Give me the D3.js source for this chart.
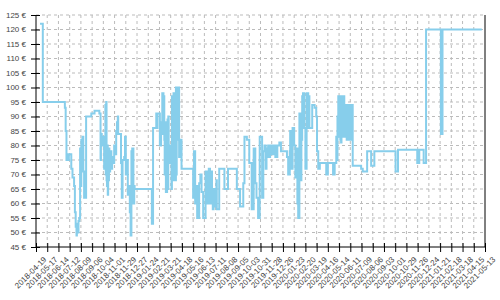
<!DOCTYPE html>
<html>
<head>
<meta charset="utf-8">
<script src="https://cdn.jsdelivr.net/npm/d3@7"></script>
<style>
  body { margin: 0; background: #fff; }
  .grid line { stroke: #bbb; stroke-dasharray: 3,3; }
  .lbl { font-family: "Liberation Sans", Arial, sans-serif; font-size: 8px; fill: #444; }
</style>
</head>
<body>
<div id="chart"></div>
<script>
var svgWidth = 500;
var svgHeight = 300;

var margin = { top: 15, right: 15, bottom: 53, left: 36 };
var width = svgWidth - margin.left - margin.right;
var height = svgHeight - margin.top - margin.bottom;

// price history, one price per date (step after each date)
var dates = [
  "2018-04-29","2018-05-06","2018-06-30","2018-07-02","2018-07-04","2018-07-05","2018-07-09","2018-07-10",
  "2018-07-16","2018-07-19","2018-07-23","2018-07-25","2018-07-27","2018-07-29","2018-07-30","2018-08-01",
  "2018-08-03","2018-08-05","2018-08-07","2018-08-08","2018-08-10","2018-08-12","2018-08-13","2018-08-15",
  "2018-08-17","2018-08-22","2018-09-04","2018-09-12","2018-09-24","2018-09-27","2018-09-28","2018-09-30",
  "2018-10-01","2018-10-04","2018-10-06","2018-10-09","2018-10-10","2018-10-11","2018-10-12","2018-10-13",
  "2018-10-14","2018-10-15","2018-10-16","2018-10-17","2018-10-18","2018-10-19","2018-10-21","2018-10-24",
  "2018-10-26","2018-10-29","2018-10-31","2018-11-03","2018-11-05","2018-11-07","2018-11-09","2018-11-10",
  "2018-11-17","2018-11-19","2018-11-21","2018-11-25","2018-11-27","2018-11-29","2018-12-01","2018-12-04",
  "2018-12-06","2018-12-09","2018-12-11","2018-12-13","2018-12-15","2018-12-18","2018-12-20","2018-12-21",
  "2019-02-02","2019-02-05","2019-02-13","2019-02-15","2019-02-16","2019-02-22","2019-02-25","2019-02-28",
  "2019-03-01","2019-03-02","2019-03-03","2019-03-04","2019-03-05","2019-03-06","2019-03-09","2019-03-10",
  "2019-03-11","2019-03-12","2019-03-13","2019-03-14","2019-03-15","2019-03-16","2019-03-18","2019-03-19",
  "2019-03-21","2019-03-23","2019-03-24","2019-03-25","2019-03-26","2019-03-27","2019-03-28","2019-03-29",
  "2019-03-30","2019-03-31","2019-04-01","2019-04-02","2019-04-03","2019-04-04","2019-04-05","2019-04-06",
  "2019-04-07","2019-04-08","2019-04-09","2019-04-11","2019-04-13","2019-04-17","2019-05-16","2019-05-18",
  "2019-05-21","2019-05-23","2019-05-26","2019-05-31","2019-06-03","2019-06-06","2019-06-10","2019-06-16",
  "2019-06-17","2019-06-18","2019-06-19","2019-06-20","2019-06-21","2019-06-22","2019-06-23","2019-06-24",
  "2019-06-25","2019-06-26","2019-06-27","2019-06-28","2019-06-30","2019-07-02","2019-07-04","2019-07-06",
  "2019-07-08","2019-07-10","2019-07-12","2019-07-13","2019-07-14","2019-07-20","2019-08-02","2019-08-11",
  "2019-09-02","2019-09-10","2019-09-18","2019-09-21","2019-09-27","2019-10-03","2019-10-09","2019-10-14",
  "2019-10-18","2019-10-21","2019-10-25","2019-10-29","2019-11-04","2019-11-07","2019-11-10","2019-11-13",
  "2019-11-15","2019-11-17","2019-11-19","2019-11-21","2019-11-22","2019-11-24","2019-11-26","2019-11-28",
  "2019-11-30","2019-12-02","2019-12-05","2019-12-07","2019-12-10","2019-12-12","2019-12-17","2019-12-21",
  "2020-01-05","2020-01-08","2020-01-12","2020-01-13","2020-01-16","2020-01-19","2020-01-23","2020-01-26",
  "2020-01-29","2020-01-31","2020-02-02","2020-02-05","2020-02-07","2020-02-10","2020-02-12","2020-02-13",
  "2020-02-14","2020-02-15","2020-02-16","2020-02-17","2020-02-18","2020-02-20","2020-02-23","2020-02-24",
  "2020-02-25","2020-02-26","2020-02-27","2020-02-28","2020-03-01","2020-03-02","2020-03-08","2020-03-14",
  "2020-03-18","2020-03-20","2020-03-23","2020-03-27","2020-04-12","2020-04-16","2020-04-29","2020-05-03",
  "2020-05-07","2020-05-08","2020-05-10","2020-05-11","2020-05-12","2020-05-13","2020-05-14","2020-05-15",
  "2020-05-16","2020-05-17","2020-05-18","2020-05-19","2020-05-20","2020-05-21","2020-05-22","2020-05-23",
  "2020-05-24","2020-05-25","2020-05-26","2020-05-27","2020-05-28","2020-05-29","2020-05-30","2020-05-31",
  "2020-06-01","2020-06-02","2020-06-03","2020-06-04","2020-06-05","2020-06-06","2020-06-07","2020-06-08",
  "2020-06-09","2020-06-10","2020-06-11","2020-06-12","2020-06-13","2020-06-14","2020-06-15","2020-06-17",
  "2020-07-08","2020-07-12","2020-07-23","2020-08-02","2020-08-10","2020-10-02","2020-10-08","2020-11-25",
  "2020-11-30","2020-12-11","2020-12-17","2021-01-23","2021-01-27","2021-05-05"
];
var prices = [
  122, 95, 93, 85, 75, 77, 75, 77,
  72, 69, 66, 57, 52, 49, 53, 50,
  54, 55, 79, 66, 82, 72, 83, 71,
  62, 90, 91, 92, 91, 75, 84, 80,
  83, 80, 72, 94, 70, 95, 68, 66,
  80, 63, 78, 68, 79, 71, 78, 72,
  76, 74, 80, 77, 85, 88, 90, 84,
  74, 62, 75, 76, 83, 70, 75, 63,
  66, 57, 49, 78, 79, 60, 66, 65,
  53, 86, 91, 86, 91, 80, 88, 98,
  84, 98, 84, 97, 82, 70, 64, 88,
  64, 82, 89, 65, 90, 76, 80, 74,
  80, 65, 97, 70, 97, 68, 98, 70,
  98, 68, 98, 68, 100, 70, 100, 82,
  100, 82, 100, 76, 82, 72, 62, 78,
  60, 66, 55, 67, 70, 64, 55, 71,
  62, 71, 63, 70, 60, 68, 60, 72,
  60, 72, 61, 60, 71, 60, 58, 65,
  59, 65, 59, 68, 58, 72, 65, 72,
  65, 59, 67, 83, 82, 74, 58, 79,
  67, 62, 55, 83, 62, 78, 80, 72,
  79, 76, 80, 77, 76, 80, 80, 77,
  77, 80, 80, 76, 76, 80, 81, 78,
  76, 70, 78, 85, 72, 86, 80, 69,
  79, 60, 55, 91, 68, 82, 97, 86,
  98, 86, 98, 98, 86, 72, 86, 98,
  86, 98, 86, 97, 86, 86, 94, 93,
  90, 78, 72, 74, 70, 74, 70, 74,
  83, 75, 90, 83, 97, 83, 97, 83,
  97, 82, 97, 81, 97, 83, 97, 83,
  97, 83, 97, 83, 94, 83, 94, 83,
  94, 82, 94, 82, 94, 82, 94, 82,
  94, 82, 94, 82, 94, 82, 94, 73,
  72, 71, 78, 73, 78, 71, 78.5, 74,
  78.5, 74, 120, 84, 120, 120
];

var yTicks = [45, 50, 55, 60, 65, 70, 75, 80, 85, 90, 95, 100, 105, 110, 115, 120, 125];
var xTickLabels = [
  "2018-04-19","2018-05-17","2018-06-14","2018-07-12","2018-08-09","2018-09-06","2018-10-04","2018-11-01",
  "2018-11-29","2018-12-27","2019-01-24","2019-02-21","2019-03-21","2019-04-18","2019-05-16","2019-06-13",
  "2019-07-11","2019-08-08","2019-09-05","2019-10-03","2019-10-31","2019-11-28","2019-12-26","2020-01-23",
  "2020-02-20","2020-03-19","2020-04-16","2020-05-14","2020-06-11","2020-07-09","2020-08-06","2020-09-03",
  "2020-10-01","2020-10-29","2020-11-26","2020-12-24","2021-01-21","2021-02-18","2021-03-18","2021-04-15",
  "2021-05-13"
];

var parseDate = d3.timeParse("%Y-%m-%d");
var data = dates.map(function(d, i) { return { date: parseDate(d), price: prices[i] }; });
var xTicks = xTickLabels.map(parseDate);

var svg = d3.select("#chart")
  .append("svg")
  .attr("width", svgWidth)
  .attr("height", svgHeight);

var chartGroup = svg.append("g")
  .attr("transform", `translate(${margin.left}, ${margin.top})`);

var xScale = d3.scaleTime()
  .domain([xTicks[0], xTicks[xTicks.length - 1]])
  .range([0, width]);
var yScale = d3.scaleLinear().domain([45, 125]).range([height, 0]);

// grid
chartGroup.append("g").attr("class", "grid")
  .selectAll("line").data(yTicks.slice(1)).enter().append("line")
  .attr("x1", 0).attr("x2", width)
  .attr("y1", d => yScale(d)).attr("y2", d => yScale(d));
chartGroup.append("g").attr("class", "grid")
  .selectAll("line").data(xTicks.slice(1, -1)).enter().append("line")
  .attr("y1", 0).attr("y2", height)
  .attr("x1", d => xScale(d)).attr("x2", d => xScale(d));

// price line
var line = d3.line()
  .curve(d3.curveStepAfter)
  .x(d => xScale(d.date))
  .y(d => yScale(d.price));

chartGroup.append("path")
  .datum(data)
  .attr("fill", "none")
  .attr("stroke", "#87ceeb")
  .attr("stroke-width", 2)
  .attr("d", line);

// axes
var bottomAxis = d3.axisBottom(xScale).tickValues(xTicks).tickSize(5).tickFormat("");
var leftAxis = d3.axisLeft(yScale).tickValues(yTicks).tickSize(5).tickFormat("");

var xAxisG = chartGroup.append("g")
  .attr("transform", `translate(0, ${height})`)
  .call(bottomAxis);
xAxisG.selectAll(".tick line").attr("y1", -4).attr("stroke", "#000");
xAxisG.select(".domain").attr("stroke", "#000").attr("d", `M0,0H${width}`);

var yAxisG = chartGroup.append("g").call(leftAxis);
yAxisG.selectAll(".tick line").attr("x1", 4).attr("stroke", "#000");
yAxisG.select(".domain").attr("stroke", "#000").attr("d", `M0,0V${height}`);

// right border
chartGroup.append("line")
  .attr("x1", width).attr("x2", width)
  .attr("y1", 0).attr("y2", height)
  .attr("stroke", "#000");

// labels
chartGroup.append("g").selectAll("text").data(yTicks).enter().append("text")
  .attr("class", "lbl")
  .attr("x", -10)
  .attr("y", d => yScale(d))
  .attr("dy", "0.33em")
  .attr("text-anchor", "end")
  .text(d => d + " €");

chartGroup.append("g").selectAll("text").data(xTicks).enter().append("text")
  .attr("class", "lbl")
  .attr("text-anchor", "end")
  .attr("transform", (d, i) => `translate(${xScale(d) + 11}, ${height + 13}) rotate(-45)`)
  .text((d, i) => xTickLabels[i]);
</script>
</body>
</html>
